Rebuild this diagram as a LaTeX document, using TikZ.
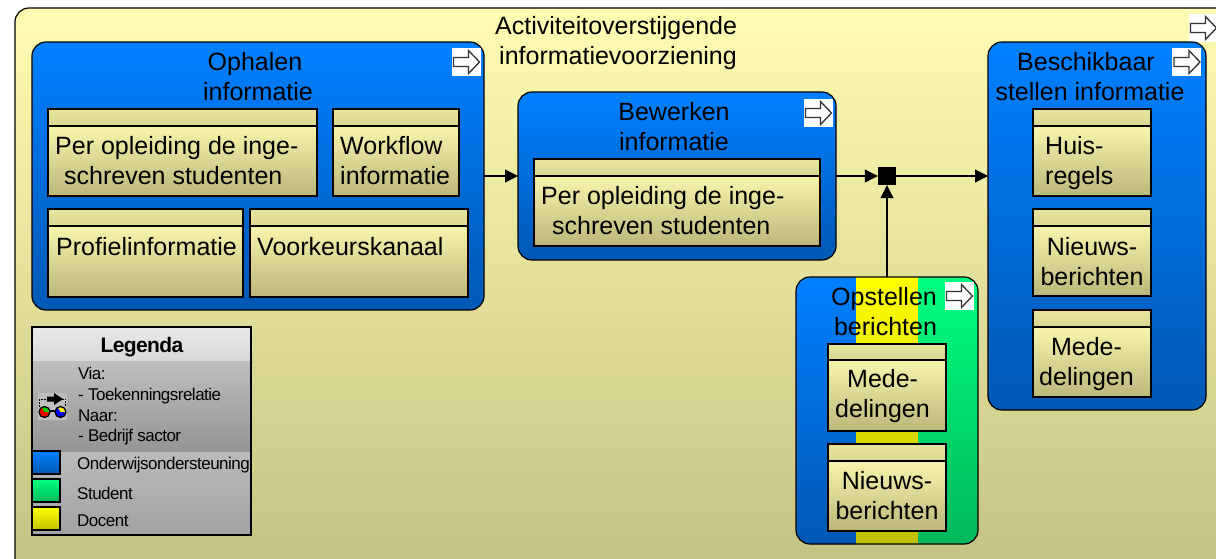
\documentclass[tikz,border=0pt]{standalone}
\usepackage{fontspec}
\setmainfont{Liberation Sans}
\newfontfamily\tightfont[LetterSpace=-3]{Liberation Sans}
\usetikzlibrary{arrows.meta,calc}
\definecolor{blueT}{HTML}{0080FF}\definecolor{blueB}{HTML}{0058B4}
\definecolor{greenT}{HTML}{00FF80}\definecolor{greenB}{HTML}{00B85C}
\definecolor{yelT}{HTML}{FFFF00}\definecolor{yelB}{HTML}{C0C000}
\tikzset{
  box/.style={draw=black,line width=1.2pt,inner sep=0pt,outer sep=0pt,anchor=north west},
  outerbox/.style={box,rounded corners=14pt,top color={rgb,255:red,255;green,253;blue,178},bottom color={rgb,255:red,196;green,194;blue,131}},
  blueblock/.style={box,rounded corners=14pt,top color=blueT,bottom color=blueB},
  mixedblock/.style={box,rounded corners=14pt},
  itembody/.style={box,line width=1.1pt,top color={rgb,255:red,247;green,245;blue,172},bottom color={rgb,255:red,186;green,183;blue,122}},
  itemhead/.style={box,line width=1.1pt,top color={rgb,255:red,232;green,229;blue,158},bottom color={rgb,255:red,218;green,215;blue,146}},
  lab/.style={inner sep=0pt,font=\fontsize{25}{30}\selectfont,text=black},
  lableft/.style={lab,align=left,anchor=west},
  labmid/.style={lab,align=center},
  leg/.style={inner sep=0pt,anchor=west,font=\fontsize{17}{20.7}\tightfont,text=black,align=left},
  conn/.style={line width=1.1pt,-{Triangle[length=13pt,width=13pt]}},
  swatch/.style={box,line width=1.1pt,minimum width=28pt,minimum height=23pt},
  iconbg/.style={fill=white,draw=none,inner sep=0pt,minimum width=29pt,minimum height=28pt},
  arrowshape/.style={draw=black!80,line width=1.3pt,fill=white,line join=miter}
}
\newcommand{\bx}[5]{\pgfmathsetmacro{\ww}{#4-#2}\pgfmathsetmacro{\hh}{#5-#3}%
  \node[#1,minimum width=\ww pt,minimum height=\hh pt] at (#2,#3)}
\newcommand{\itemb}[6]{% name x1 y1 x2 y2 ybar
  \bx{itembody}{#2}{#6}{#4}{#5} (#1b) {};
  \bx{itemhead}{#2}{#3}{#4}{#6} (#1h) {};}
\newcommand{\goicon}[3]{% name cx cy
  \node[iconbg] (#1) at (#2,#3) {};
  \draw[arrowshape] ($(#1.center)+(-12.5,-4.5)$) -- ++(15,0) -- ++(0,-7) -- ++(11,11.5) -- ++(-11,11.5) -- ++(0,-7) -- ++(-15,0) -- cycle;}
\begin{document}
\begin{tikzpicture}[x=1pt,y=-1pt]
\useasboundingbox (0,0) rectangle (1216,558);
\clip (0,0) rectangle (1216,558);
% outer
\bx{outerbox}{15}{8}{1230}{572} (outer) {};
\node[lableft] (outertitle) at (495,43) {Activiteitoverstijgende\\\hspace*{4pt}informatievoorziening};
\goicon{outericon}{1203}{28}
% ophalen
\bx{blueblock}{32}{42}{484}{310} (ophalen) {};
\node[labmid] (ophalent) at (258,77) {\hspace*{-6pt}Ophalen\\informatie};
\goicon{ophalenicon}{466}{62}
\itemb{a}{48}{109}{317}{196}{126}
\node[lableft] (at) at (55,161) {Per opleiding de inge-\\\hspace*{9pt}schreven studenten};
\itemb{b}{333}{109}{459}{196}{126}
\node[lableft] (bt) at (340,161) {Workflow\\informatie};
\itemb{c}{48}{209}{243}{297}{226}
\node[lableft] (ct) at (56,247) {Profielinformatie};
\itemb{d}{250}{209}{468}{297}{226}
\node[lableft] (dt) at (257,247) {Voorkeurskanaal};
% bewerken
\bx{blueblock}{518}{92}{836}{260} (bewerken) {};
\node[labmid] (bewerkent) at (674,127) {Bewerken\\informatie};
\goicon{bewerkenicon}{818}{113}
\itemb{e}{534}{159}{820}{246}{176}
\node[lableft] (et) at (541,211) {Per opleiding de inge-\\\hspace*{11pt}schreven studenten};
% beschikbaar
\bx{blueblock}{988}{42}{1206}{410} (beschikbaar) {};
\node[labmid] (beschikbaart) at (1090,77) {\hspace*{-8pt}Beschikbaar\\stellen informatie};
\goicon{beschikbaaricon}{1186.5}{62}
\itemb{f}{1033}{109}{1151}{196}{126}
\node[lableft] (ft) at (1045,163) {Huis-\\regels};
\itemb{g}{1033}{209}{1151}{296}{226}
\node[labmid] (gt) at (1092,262) {Nieuws-\\berichten};
\itemb{h}{1033}{310}{1151}{397}{327}
\node[labmid] (ht) at (1086.5,364) {Mede-\\delingen};
% opstellen
\begin{scope}
  \path[clip] (796,277) [rounded corners=14pt] rectangle (978,544);
  \shade[top color=blueT,bottom color=blueB] (796,277) rectangle (856,544);
  \shade[top color=yelT,bottom color=yelB] (856,277) rectangle (918,544);
  \shade[top color=greenT,bottom color=greenB] (918,277) rectangle (978,544);
\end{scope}
\bx{mixedblock}{796}{277}{978}{544} (opstellen) {};
\goicon{opstellenicon}{959}{296}
\node[labmid] (opstellent) at (885.5,312) {\hspace*{-3pt}Opstellen\\berichten};
\itemb{i}{828}{344}{946}{431}{360}
\node[lableft] (it) at (835,396) {\hspace*{12pt}Mede-\\delingen};
\itemb{j}{828}{444}{946}{531}{461}
\node[labmid] (jt) at (887,496) {Nieuws-\\berichten};
% connectors
\node[fill=black,inner sep=0pt,minimum size=18pt] (junction) at (887,176) {};
\draw[conn] (ophalen.east |- junction) -- (bewerken.west |- junction);
\draw[conn] (bewerken.east |- junction) -- (junction.west);
\draw[conn] (junction.east) -- (beschikbaar.west |- junction);
\draw[conn] (opstellen.north -| junction) -- (junction.south);
% legend
\bx{box}{32}{327}{251}{535} (legend) {};
\shade[top color={rgb,255:red,232;green,232;blue,232},bottom color={rgb,255:red,216;green,216;blue,216}] (32.6,327.6) rectangle (250.4,361);
\shade[top color={rgb,255:red,190;green,190;blue,190},bottom color={rgb,255:red,148;green,148;blue,148}] (32.6,361) rectangle (251,452);
\shade[top color={rgb,255:red,186;green,186;blue,186},bottom color={rgb,255:red,162;green,162;blue,162}] (32.6,452) rectangle (250.4,534.4);
\draw[line width=1.2pt] (legend.north west) rectangle (legend.south east);
\node[inner sep=0pt,font=\fontsize{21}{24}\tightfont\bfseries] (legt) at (142,347) {Legenda};
\node[leg] (via) at (78,406.5) {Via:\\- Toekenningsrelatie\\Naar:\\- Bedrijf sactor};
\node[swatch,top color=blueT,bottom color=blueB] (s1) at (32,451) {};
\node[swatch,top color=greenT,bottom color=greenB] (s2) at (32,479) {};
\node[swatch,top color=yelT,bottom color=yelB] (s3) at (32,507) {};
\node[leg] (l1) at (77,465) {Onderwijsondersteuning};
\node[leg] (l2) at (77,493) {Student};
\node[leg] (l3) at (77,521) {Docent};
% glasses icon
\fill[fill={rgb,255:red,190;green,190;blue,190}] (38,393) rectangle (67,420);
\draw[black,line width=.8pt,dash pattern=on 2pt off 1pt] (39.5,407) -- (39.5,399) -- (65.5,399) -- (65.5,407);
\draw[black,line width=1.2pt] (49,411) -- (55,411);
\fill[black] (47,396.5) -- (54,396.5) -- (54,393) -- (63,399) -- (54,405) -- (54,401.5) -- (47,401.5) -- cycle;
\fill[red] (44.5,412) circle (5.5pt);
\fill[green!80!black] (44.5,412) -- (50,412) arc (0:-120:5.5) -- cycle;
\draw[black,line width=1.3pt] (44.5,412) circle (5.5pt);
\fill[blue] (60.5,412) circle (5.5pt);
\fill[yellow] (60.5,412) -- (66,412) arc (0:-120:5.5) -- cycle;
\draw[black,line width=1.3pt] (60.5,412) circle (5.5pt);
\end{tikzpicture}
\end{document}
